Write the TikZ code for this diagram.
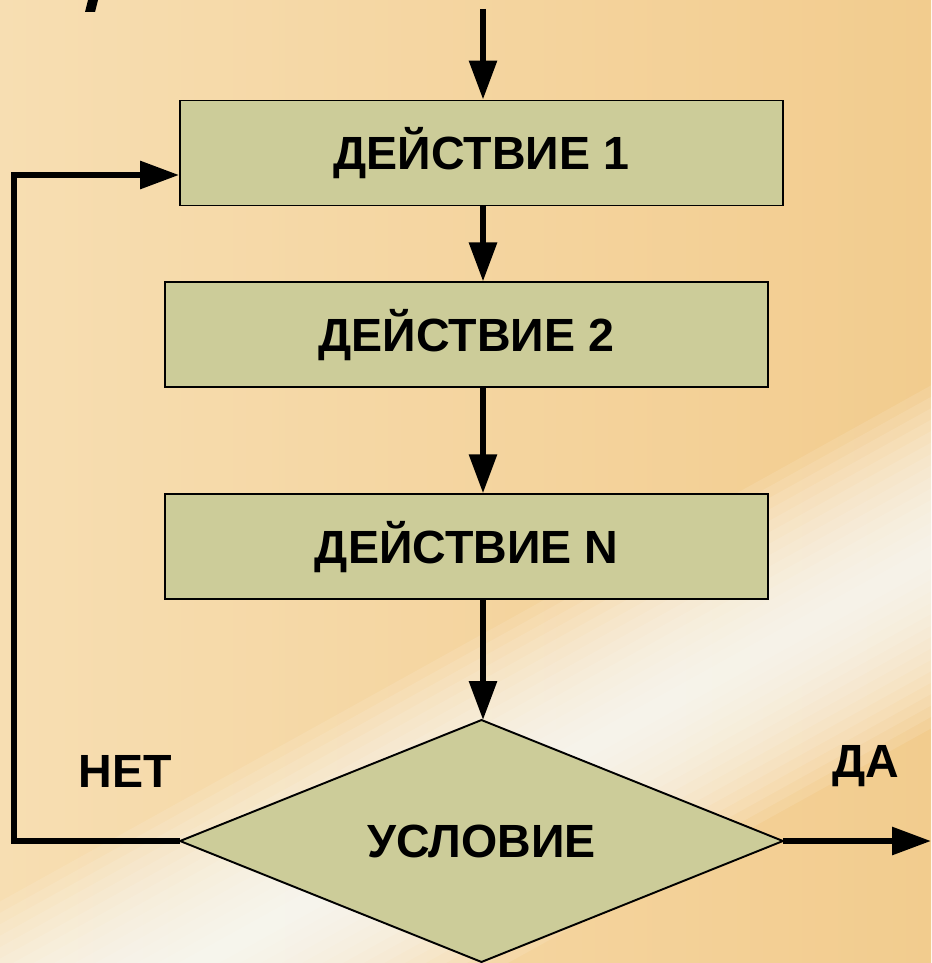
\documentclass[tikz,border=0pt]{standalone}
\usepackage{fontspec}
\setmainfont{Liberation Sans}
\usetikzlibrary{arrows.meta,positioning,shapes.geometric}

\definecolor{boxfill}{RGB}{204,204,153}
\definecolor{bgleft}{RGB}{247,222,178}
\definecolor{bgright}{RGB}{242,204,142}

\begin{document}
\begin{tikzpicture}[x=0.02cm,y=-0.02cm,>={Triangle[length=0.78cm,width=0.54cm]},line join=miter]

    \tikzstyle{action}=[rectangle,draw=black,line width=1.1pt,fill=boxfill,minimum width=12.06cm,minimum height=2.1cm,font=\fontsize{26.5}{30}\selectfont\bfseries]
    \tikzstyle{test}=[diamond,aspect=2.49,draw=black,line width=1.1pt,fill=boxfill,minimum width=12.06cm,minimum height=4.84cm,inner sep=0pt,outer sep=0pt,font=\fontsize{26.5}{30}\selectfont\bfseries]
    \tikzstyle{answer}=[text depth=0pt,font=\fontsize{26.5}{30}\selectfont\bfseries]
    \tikzstyle{flow}=[->,line width=3.4pt]

    % background with the light streak
    \useasboundingbox (0,0) rectangle (931,963);
    \shade[left color=bgleft,right color=bgright] (0,0) rectangle (931,963);
    \begin{scope}[shift={(700,685)},rotate=29]
      \foreach \w in {150,140,...,10}
        \fill[white,opacity=0.11] (-1100,-\w) rectangle (1100,\w);
    \end{scope}
    \fill (85,12) -- (95,12) -- (98,0) -- (88,0) -- cycle;

    \node[action] (b1) at (481.5,153)                 {ДЕЙСТВИЕ 1};
    \node[action] (b2) [below=1.5cm of b1,xshift=-0.3cm] {ДЕЙСТВИЕ 2};
    \node[action] (bn) [below=2.1cm of b2]            {ДЕЙСТВИЕ N};
    \node[test]   (cond) at (481.5,841)               {УСЛОВИЕ};

    \node[answer] (no)  at (125,771) {НЕТ};
    \node[answer] (yes) at (866,761) {ДА};

    \coordinate (top)  at (483,9);
    \coordinate (out)  at (931,841);
    \coordinate (loop) at (14,175);

    \draw[flow] (top) -- (top |- b1.north);
    \draw[flow] (top |- b1.south) -- (top |- b2.north);
    \draw[flow] (top |- b2.south) -- (top |- bn.north);
    \draw[flow] (top |- bn.south) -- (top |- cond.north);
    \draw[flow] (cond.east) -- (out);
    \draw[flow] (cond.west) -| (loop) -- (loop -| b1.west);
\end{tikzpicture}
\end{document}
